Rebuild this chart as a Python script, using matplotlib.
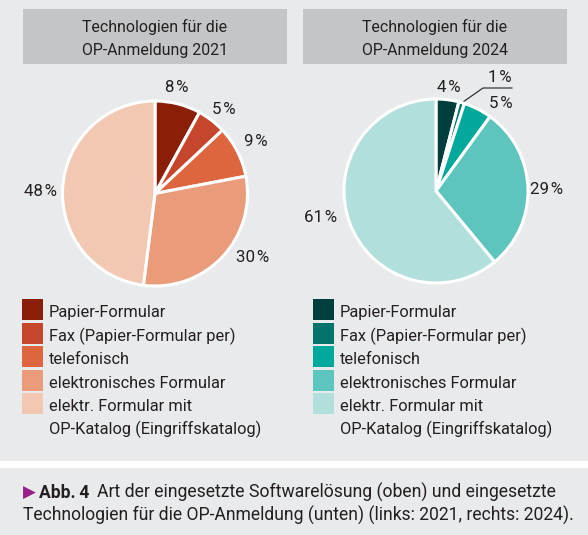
import matplotlib
matplotlib.use("Agg")
import matplotlib.pyplot as plt
from matplotlib.patches import Rectangle

# ---------------- data ----------------
categories = ["Papier-Formular", "Fax (Papier-Formular per)", "telefonisch",
              "elektronisches Formular", "elektr. Formular mit\nOP-Katalog (Eingriffskatalog)"]
values_2021 = [8, 5, 9, 30, 48]
values_2024 = [4, 1, 5, 29, 61]
titles = ["Technologien für die\nOP-Anmeldung 2021", "Technologien für die\nOP-Anmeldung 2024"]
colors_2021 = ["#8b1e06", "#c5462a", "#dd663e", "#e99b7a", "#f3c8b2"]
colors_2024 = ["#013f3f", "#00736b", "#00a99c", "#5dc4be", "#b1dfdb"]
caption_bold = "Abb.\u20094"
caption_l1 = "Art der eingesetzte Softwarelösung (oben) und eingesetzte"
caption_l2 = "Technologien für die OP-Anmeldung (unten) (links: 2021, rechts: 2024)."

W, H = 588, 535
DPI = 100
FAM = ["Roboto", "DejaVu Sans"]
TXT = "#231f20"
BG = "#e9eaec"

fig = plt.figure(figsize=(W / DPI, H / DPI), dpi=DPI, facecolor=BG)
bg = fig.add_axes([0, 0, 1, 1])
bg.set_xlim(0, W)
bg.set_ylim(H, 0)
bg.axis("off")
renderer = fig.canvas.get_renderer()


def fit(t, target):
    w = t.get_window_extent(renderer=renderer).width
    t.set_fontsize(t.get_fontsize() * target / w)
    return t.get_fontsize()


# white separator band
bg.add_patch(Rectangle((0, 461), W, 7, color="white", lw=0))

# header boxes
for (x0, x1), title in zip([(23, 287), (303, 567)], titles):
    bg.add_patch(Rectangle((x0, 9), x1 - x0, 55, color="#c4c5c7", lw=0))
    l1, l2 = title.split("\n")
    t1 = bg.text((x0 + x1) / 2, 32, l1, ha="center", va="baseline", family=FAM, color=TXT, fontsize=10)
    fs = fit(t1, 145)
    bg.text((x0 + x1) / 2, 55, l2, ha="center", va="baseline", family=FAM, color=TXT, fontsize=fs)

# pies
def pie_at(cx, cy, r, vals, cols):
    pad = 1.06
    s = r * pad
    ax = fig.add_axes([(cx - s) / W, 1 - (cy + s) / H, 2 * s / W, 2 * s / H])
    ax.pie(vals, colors=cols, startangle=90, counterclock=False,
           wedgeprops=dict(edgecolor="white", linewidth=2.2))
    ax.set_xlim(-pad, pad)
    ax.set_ylim(-pad, pad)
    ax.set_aspect("equal")
    ax.axis("off")
    return ax

pie_at(155, 193.5, 92.5, values_2021, colors_2021)
pie_at(436, 191, 92, values_2024, colors_2024)

# legend font size
tmp = bg.text(0, 0, categories[1], family=FAM, fontsize=10)
LFS = fit(tmp, 186)
tmp.remove()

# percentage labels
pos_2021 = [(177, 87), (224, 109), (256, 141), (253, 258), (41, 192)]
pos_2024 = [(449, 87), (500, 78), (501, 103), (547, 189), (321, 217)]
for vals, pos in [(values_2021, pos_2021), (values_2024, pos_2024)]:
    for v, (x, y) in zip(vals, pos):
        bg.text(x, y, f"{v}\u200a%", ha="center", va="center", family=FAM, color=TXT,
                fontsize=LFS * 1.03)

# leader line for 1 %
bg.plot([463, 483, 512], [102, 88, 88], color=TXT, lw=0.8)

# legends
square_tops = [299, 323, 346, 370, 393]
for sx, cols in [(22, colors_2021), (313, colors_2024)]:
    for i, (cat, c) in enumerate(zip(categories, cols)):
        bg.add_patch(Rectangle((sx, square_tops[i]), 21, 21, color=c, lw=0))
        lines = cat.split("\n")
        for j, ln in enumerate(lines):
            bg.text(sx + 27, square_tops[i] + 18 + j * 23.5, ln, ha="left", va="baseline",
                    family=FAM, color=TXT, fontsize=LFS)

# caption
t2 = bg.text(23, 521, caption_l2, ha="left", va="baseline", family=FAM, color=TXT, fontsize=10)
CFS = fit(t2, 552)
bg.text(23, 498, "\u25b6", ha="left", va="baseline", family=["DejaVu Sans"], color="#9b1f8a",
        fontsize=CFS * 0.95)
bg.text(39, 498, caption_bold, ha="left", va="baseline", family=FAM, weight="bold", color=TXT,
        fontsize=CFS)
t1 = bg.text(97, 498, caption_l1, ha="left", va="baseline", family=FAM, color=TXT, fontsize=CFS)
fit(t1, 458)

fig.savefig("out.png", dpi=DPI, facecolor=BG)
